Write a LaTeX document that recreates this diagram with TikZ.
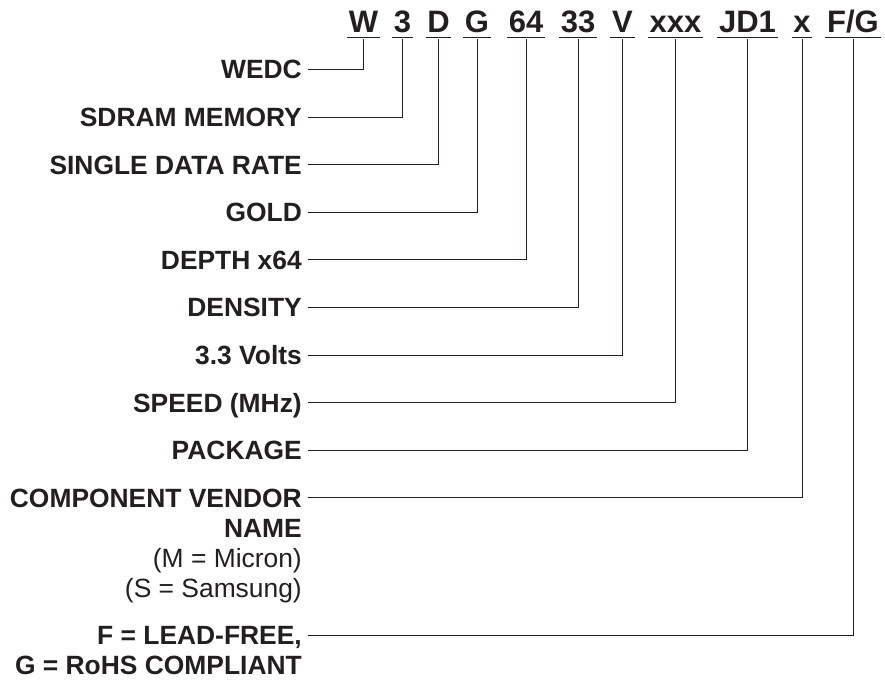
\documentclass[tikz,border=0pt]{standalone}
\usepackage{fontspec}
\setmainfont{Liberation Sans}
\usetikzlibrary{calc}
\definecolor{ink}{HTML}{231F20}
\begin{document}
\begin{tikzpicture}[x=1pt,y=-1pt,
 lab/.style={anchor=east,inner sep=0pt,text height=18.8pt,text depth=0pt,font=\fontsize{26.4}{30}\selectfont\bfseries,text=ink},
 labr/.style={lab,font=\fontsize{26.4}{30}\selectfont},
 tok/.style={anchor=base,inner sep=0pt,text height=22pt,text depth=0pt,font=\fontsize{31}{36}\selectfont\bfseries,text=ink},
 conn/.style={draw=ink,line width=0.9pt},
 ul/.style={draw=ink,line width=1.1pt}]
\useasboundingbox (0,0) rectangle (885,682);
% code tokens
\node[tok] (tW)  at (363.5,32.5) {W};
\node[tok] (t3)  at (402.5,32.5) {3};
\node[tok] (tD)  at (438.5,32.5) {D};
\node[tok] (tG)  at (477,32.5) {G};
\node[tok] (t64) at (526,32.5) {64};
\node[tok] (t33) at (578,32.5) {33};
\node[tok] (tV)  at (622.5,32.5) {V};
\node[tok] (txxx) at (675.5,32.5) {xxx};
\node[tok] (tJD) at (747.5,32.5) {JD1};
\node[tok] (tx)  at (802,32.5) {x};
\node[tok] (tFG) at (853,32.5) {F/G};
\foreach \t in {tW,t3,tD,tG,t64,t33,tV,txxx,tJD,tx,tFG}
  \draw[ul] ($(\t.base west)+(-1.5,5)$) -- ($(\t.base east)+(1.5,5)$);
% labels
\node[lab] (wedc) at (302,69.5) {WEDC};
\node[lab] (sdram) at (302,117.1) {SDRAM MEMORY};
\node[lab] (sdr) at (302,164.7) {SINGLE DATA RATE};
\node[lab] (gold) at (302,212.3) {GOLD};
\node[lab] (depth) at (302,259.9) {DEPTH x64};
\node[lab] (dens) at (302,307.5) {DENSITY};
\node[lab] (volts) at (302,355.1) {3.3 Volts};
\node[lab] (speed) at (302,402.7) {SPEED (MHz)};
\node[lab] (pack) at (302,450.3) {PACKAGE};
\node[lab] (vend) at (302,497.9) {COMPONENT VENDOR};
\node[lab] (vend2) at (302,528.5) {NAME};
\node[labr] (vend3) at (302,558) {(M = Micron)};
\node[labr] (vend4) at (302,588) {(S = Samsung)};
\node[lab] (lead) at (302,635) {F = LEAD-FREE,};
\node[lab] (rohs) at (302,665) {G = RoHS COMPLIANT};
% connectors
\foreach \l/\t in {wedc/tW,sdram/t3,sdr/tD,gold/tG,depth/t64,dens/t33,volts/tV,speed/txxx,pack/tJD,vend/tx,lead/tFG}
  \draw[conn] ($(\l.east)+(6,0)$) -| ($(\t.base)+(0,7)$);
\end{tikzpicture}
\end{document}
